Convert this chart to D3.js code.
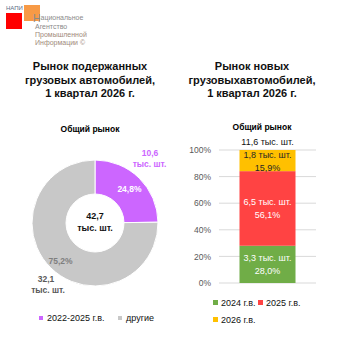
<!DOCTYPE html>
<html><head><meta charset="utf-8">
<script src="https://cdn.jsdelivr.net/npm/d3@7/dist/d3.min.js"></script>
<style>body{margin:0;background:#fff}svg{display:block;font-family:"Liberation Sans",Arial,sans-serif}</style>
</head><body>
<script>
// ---- data ----
const donutCategories = ["2022-2025 г.в.", "другие"];
const donutValues = [10.6, 32.1];          // тыс. шт.
const donutShares = [24.8, 75.2];          // %
const donutTotal = "42,7";
const barCategories = ["2024 г.в.", "2025 г.в.", "2026 г.в."];
const barValues = [3.3, 6.5, 1.8];         // тыс. шт.
const barShares = [28.0, 56.1, 15.9];      // %
const barTotal = "11,6";
const barGroup = ["Общий рынок"];
const yTicks = [0, 0.2, 0.4, 0.6, 0.8, 1.0];

const W = 353, H = 353;
const svg = d3.select("body").append("svg").attr("width", W).attr("height", H);
const fmt = v => d3.format(".1f")(v).replace(".", ",");

// ---- logo ----
const logo = svg.append("g");
logo.append("text").attr("x", 6).attr("y", 10).attr("font-size", 6).attr("fill", "#5b6b85").text("НАПИ");
logo.append("rect").attr("x", 6).attr("y", 13).attr("width", 16).attr("height", 16).attr("fill", "#ff0000");
logo.append("rect").attr("x", 24).attr("y", 5).attr("width", 16).attr("height", 16).attr("fill", "#f79a46");
const lt = logo.append("g").attr("fill", "#8a8a8a").attr("font-size", 7);
lt.append("text").attr("x", 33).attr("y", 21.5).attr("font-size", 10.5).text("Н");
lt.append("text").attr("x", 40.5).attr("y", 20).text("ациональное");
lt.append("text").attr("x", 35).attr("y", 28.5).text("Агентство");
lt.append("text").attr("x", 35).attr("y", 36.5).attr("fill", "#a08a7a").text("Промышленной");
lt.append("text").attr("x", 35).attr("y", 44.5).attr("fill", "#a08a7a").text("Информации ©");

// ---- titles ----
function title(cx, lines, y0) {
  const t = svg.append("text").attr("text-anchor", "middle").attr("font-weight", "bold")
    .attr("font-size", 11).attr("fill", "#111");
  lines.forEach((l, i) => t.append("tspan").attr("x", cx).attr("y", y0 + i * 13.5).text(l));
}
title(90, ["Рынок подержанных", "грузовых автомобилей,", "1 квартал 2026 г."], 70);
title(252, ["Рынок новых", "грузовыхавтомобилей,", "1 квартал 2026 г."], 70);
svg.append("text").attr("x", 90).attr("y", 132).attr("text-anchor", "middle").attr("font-weight", "bold").attr("font-size", 8.5).text("Общий рынок");
svg.append("text").attr("x", 262).attr("y", 130).attr("text-anchor", "middle").attr("font-weight", "bold").attr("font-size", 8.5).text("Общий рынок");

// ---- donut ----
const dColors = ["#cc66ff", "#c8c8c8"];
const cx = 95, cy = 223, rO = 63, rI = 29;
const pie = d3.pie().sort(null).value(d => d)(donutShares);
const arc = d3.arc().innerRadius(rI).outerRadius(rO);
const dg = svg.append("g").attr("transform", `translate(${cx},${cy})`);
dg.selectAll("path").data(pie).join("path").attr("d", arc)
  .attr("fill", (d, i) => dColors[i]).attr("stroke", "#fff").attr("stroke-width", 1);
const pctArc = d3.arc().innerRadius(rI + 20).outerRadius(rI + 20);
const pctColors = ["#ffffff", "#7f7f7f"];
const pctNudge = [[0, 4], [0, 6]];
dg.selectAll("text.pct").data(pie).join("text").attr("class", "pct")
  .attr("transform", (d, i) => { const c = pctArc.centroid(d); return `translate(${c[0] + pctNudge[i][0]},${c[1] + pctNudge[i][1]})`; })
  .attr("text-anchor", "middle").attr("font-weight", "bold").attr("font-size", 8.5)
  .attr("fill", (d, i) => pctColors[i]).text((d, i) => fmt(donutShares[i]) + "%");
const valArc = d3.arc().innerRadius(84).outerRadius(84);
const valColors = ["#cc66ff", "#595959"];
// per-line offsets from the label-arc centroid: [line1 dx, dy, line2 dx, dy]
const valNudge = [[-4, -7, -4.5, 4], [10, -1, 12, 10]];
pie.forEach((d, i) => {
  const [x, y] = valArc.centroid(d);
  const n = valNudge[i];
  const t = dg.append("text").attr("text-anchor", "middle").attr("font-weight", "bold")
    .attr("font-size", 8.5).attr("fill", valColors[i]);
  t.append("tspan").attr("x", x + n[0]).attr("y", y + n[1]).text(fmt(donutValues[i]));
  t.append("tspan").attr("x", x + n[2]).attr("y", y + n[3]).text("тыс. шт.");
});
const ct = dg.append("text").attr("text-anchor", "middle").attr("font-weight", "bold").attr("font-size", 9).attr("fill", "#111");
ct.append("tspan").attr("x", 0).attr("y", -4).text(donutTotal);
ct.append("tspan").attr("x", 0).attr("y", 8).text("тыс. шт.");

// donut legend
const dl = svg.append("g").attr("font-size", 9).attr("fill", "#111");
const dlx = [39, 118];
donutCategories.forEach((c, i) => {
  dl.append("rect").attr("x", dlx[i]).attr("y", 316).attr("width", 4).attr("height", 4).attr("fill", dColors[i]);
  dl.append("text").attr("x", dlx[i] + 8).attr("y", 321).text(c);
});

// ---- stacked bar ----
const bColors = ["#70ad47", "#ff4343", "#ffc000"];
const x = d3.scaleBand().domain(barGroup).range([219, 316]).paddingInner(0).paddingOuter(0.366);
const y = d3.scaleLinear().domain([0, 1]).range([283, 150]);
const grid = svg.append("g");
grid.selectAll("line").data(yTicks).join("line")
  .attr("x1", 219).attr("x2", 316).attr("y1", d => y(d)).attr("y2", d => y(d))
  .attr("stroke", "#d9d9d9").attr("stroke-width", 1);
const yAxis = svg.append("g").attr("transform", "translate(219,0)")
  .call(d3.axisLeft(y).tickValues(yTicks).tickFormat(d3.format(".0%")).tickSize(0).tickPadding(8));
yAxis.select(".domain").remove();
yAxis.selectAll("text").attr("font-size", 8.5).attr("fill", "#595959").attr("font-family", "Liberation Sans, Arial, sans-serif");

const stackData = [Object.fromEntries(barCategories.map((c, i) => [c, barShares[i] / 100]))];
const series = d3.stack().keys(barCategories)(stackData);
const bg = svg.append("g");
series.forEach((s, i) => {
  const d = s[0];
  bg.append("rect").attr("x", x(barGroup[0])).attr("width", x.bandwidth())
    .attr("y", y(d[1])).attr("height", y(d[0]) - y(d[1])).attr("fill", bColors[i]);
  const my = (y(d[0]) + y(d[1])) / 2;
  const t = bg.append("text").attr("text-anchor", "middle").attr("font-size", 9)
    .attr("fill", i === 2 ? "#262626" : "#ffffff");
  const bx = x(barGroup[0]) + x.bandwidth() / 2;
  t.append("tspan").attr("x", bx).attr("y", my - 3).text(fmt(barValues[i]) + " тыс. шт.");
  t.append("tspan").attr("x", bx).attr("y", my + 10).text(fmt(barShares[i]) + "%");
});
bg.append("text").attr("x", x(barGroup[0]) + x.bandwidth() / 2).attr("y", y(1) - 5)
  .attr("text-anchor", "middle").attr("font-size", 9).attr("fill", "#111").text(barTotal + " тыс. шт.");

// bar legend
const bl = svg.append("g").attr("font-size", 9).attr("fill", "#111");
const blPos = [[213, 300], [258, 300], [213, 317]];
barCategories.forEach((c, i) => {
  bl.append("rect").attr("x", blPos[i][0]).attr("y", blPos[i][1]).attr("width", 5).attr("height", 5).attr("fill", bColors[i]);
  bl.append("text").attr("x", blPos[i][0] + 8).attr("y", blPos[i][1] + 5.5).text(c);
});
</script>
</body></html>
